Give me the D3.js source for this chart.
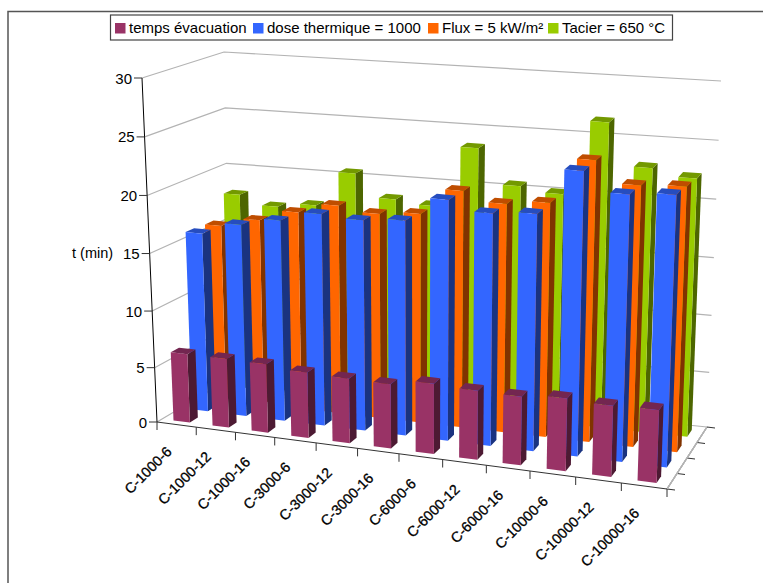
<!DOCTYPE html>
<html>
<head>
<meta charset="utf-8">
<script src="https://cdn.jsdelivr.net/npm/d3@7"></script>
<style>
  body { margin: 0; background: #fff; }
  text { font-family: "Liberation Sans", Arial, sans-serif; fill: #000; }
</style>
</head>
<body>
<svg id="chart" width="763" height="583"></svg>
<script>
var categories = ['C-1000-6', 'C-1000-12', 'C-1000-16', 'C-3000-6', 'C-3000-12', 'C-3000-16',
                  'C-6000-6', 'C-6000-12', 'C-6000-16', 'C-10000-6', 'C-10000-12', 'C-10000-16']
var seriesNames = ['temps évacuation', 'dose thermique = 1000', 'Flux = 5 kW/m²', 'Tacier = 650 °C']
var evacuation = [6.25, 6.25, 6.2, 5.9, 5.8, 5.75, 6.25, 6.1, 6.05, 6.35, 6.2, 6.3]
var dose = [16.0, 17.1, 17.8, 18.7, 18.5, 18.8, 20.9, 20.1, 20.4, 24.3, 22.7, 23.0]
var flux = [15.9, 16.7, 17.7, 18.6, 18.2, 18.5, 20.8, 20.0, 20.4, 24.3, 22.5, 22.7]
var tacier = [17.9, 17.1, 17.5, 20.6, 18.6, 18.3, 23.6, 20.6, 20.2, 26.6, 23.0, 22.4]
var yTicks = [0, 5, 10, 15, 20, 25, 30]
var faceColors = ['#993366', '#3366ff', '#ff6600', '#99cc00']
var sideColors = ['#4d1a33', '#1a3380', '#803300', '#4d6600']
var topColors = ['#732650', '#264dbf', '#bf4d00', '#739900']

var allSeries = [evacuation, dose, flux, tacier]
var svg = d3.select('#chart')

// corners of the plot box on screen: front/back, left/right, bottom/top
var box = {
  flb: [157, 422], flt: [142, 78], frb: [667, 489], frt: [680, 124],
  blb: [231, 378], blt: [224, 52], brb: [707, 427], brt: [721, 81]
}

// the category axis gets wider to the right because of the perspective
var uScale = d3.scaleLinear().domain([0, 0.25, 0.5, 0.75, 1]).range([0, 0.2308, 0.4745, 0.7314, 1])
var dScale = d3.scaleLinear().domain([0, 1]).range([0, 1])
var vScale = d3.scalePow().exponent(1.03).domain([0, 30]).range([0, 1])

var xBand = d3.scaleBand().domain(categories).range([0, 1]).paddingInner(0.58).paddingOuter(0.29)
var depthBand = d3.scaleBand().domain(seriesNames).range([0, 1]).paddingInner(0.56).paddingOuter(0.28)

function lerp(a, b, t) { return [a[0] + (b[0] - a[0]) * t, a[1] + (b[1] - a[1]) * t] }

// u along categories, d into the depth, v is the value
function project(u, d, v) {
  var fu = uScale(u), fd = dScale(d), fv = vScale(v)
  var bottom = lerp(lerp(box.flb, box.frb, fu), lerp(box.blb, box.brb, fu), fd)
  var top = lerp(lerp(box.flt, box.frt, fu), lerp(box.blt, box.brt, fu), fd)
  return lerp(bottom, top, fv)
}

var line = d3.line()

// walls
yTicks.forEach(function(t) {
  svg.append('path')
    .attr('d', line([project(0, 0, t), project(0, 1, t), project(1, 1, t)]))
    .attr('fill', 'none').attr('stroke', '#b3b3b3').attr('stroke-width', 1.2)
})

// floor ticks on the right hand side
d3.range(0, 5).forEach(function(i) {
  var p = project(1, i / 4, 0)
  svg.append('path').attr('d', line([project(1, 0, 0), project(1, 1, 0)]))
    .attr('stroke', '#b3b3b3').attr('stroke-width', 1.2)
  svg.append('line').attr('x1', p[0]).attr('y1', p[1]).attr('x2', p[0] + 8).attr('y2', p[1] + 1)
    .attr('stroke', '#333')
})

// bars, back row first and from left to right
d3.range(allSeries.length - 1, -1, -1).forEach(function(s) {
  var d0 = depthBand(seriesNames[s]), d1 = d0 + depthBand.bandwidth()
  var g = svg.append('g').attr('class', 'series')
  var bars = g.selectAll('.bar')
    .data(allSeries[s])
    .enter()
    .append('g')
      .classed('bar', true)

  bars.append('path')
    .attr('d', function(v, i) {
      var u0 = xBand(categories[i]), u1 = u0 + xBand.bandwidth()
      return line([project(u1, d0, 0), project(u1, d1, 0), project(u1, d1, v), project(u1, d0, v)]) + 'Z'
    })
    .attr('fill', sideColors[s])

  bars.append('path')
    .attr('d', function(v, i) {
      var u0 = xBand(categories[i]), u1 = u0 + xBand.bandwidth()
      return line([project(u0, d0, v), project(u1, d0, v), project(u1, d1, v), project(u0, d1, v)]) + 'Z'
    })
    .attr('fill', topColors[s])

  bars.append('path')
    .attr('d', function(v, i) {
      var u0 = xBand(categories[i]), u1 = u0 + xBand.bandwidth()
      return line([project(u0, d0, 0), project(u1, d0, 0), project(u1, d0, v), project(u0, d0, v)]) + 'Z'
    })
    .attr('fill', faceColors[s])
})

// front axes
svg.append('path').attr('d', line([project(0, 0, 0), project(0, 0, 30)]))
  .attr('stroke', '#000').attr('stroke-width', 1)
svg.append('path').attr('d', line([project(0, 0, 0), project(1, 0, 0)]))
  .attr('stroke', '#333').attr('stroke-width', 1)

yTicks.forEach(function(t) {
  var p = project(0, 0, t)
  svg.append('line').attr('x1', p[0] - 8).attr('y1', p[1]).attr('x2', p[0]).attr('y2', p[1])
    .attr('stroke', '#333')
  svg.append('text').attr('x', p[0] - 10).attr('y', p[1] + 5.5)
    .attr('text-anchor', 'end').attr('font-size', 15).text(t)
})

categories.concat(['']).forEach(function(c, i) {
  var p = project(i / 12, 0, 0)
  svg.append('line').attr('x1', p[0]).attr('y1', p[1]).attr('x2', p[0]).attr('y2', p[1] + 8)
    .attr('stroke', '#333')
  if (!c) return
  var q = project((i + 0.5) / 12, 0, 0)
  svg.append('text')
    .attr('transform', 'translate(' + (q[0] - 4) + ',' + (q[1] + 28) + ') rotate(-45)')
    .attr('text-anchor', 'end').attr('font-size', 14.3).attr('stroke', '#000').attr('stroke-width', 0.3)
    .text(c)
})

svg.append('text').attr('x', 72).attr('y', 258).attr('font-size', 14.5).text('t (min)')

// outer frame
svg.append('path').attr('d', 'M763,11.5H8V583')
  .attr('fill', 'none').attr('stroke', '#555').attr('stroke-width', 1.5)

// legend
var legend = svg.append('g')
legend.append('rect').attr('x', 110.5).attr('y', 15).attr('width', 562).attr('height', 25)
  .attr('fill', '#fff').attr('stroke', '#444').attr('stroke-width', 1.2)
var legendX = [115, 253, 428, 548]
seriesNames.forEach(function(n, i) {
  legend.append('rect').attr('x', legendX[i]).attr('y', 23).attr('width', 10.5).attr('height', 10.5)
    .attr('fill', faceColors[i])
  legend.append('text').attr('x', legendX[i] + 14).attr('y', 33).attr('font-size', 15).text(n)
})
</script>
</body>
</html>
